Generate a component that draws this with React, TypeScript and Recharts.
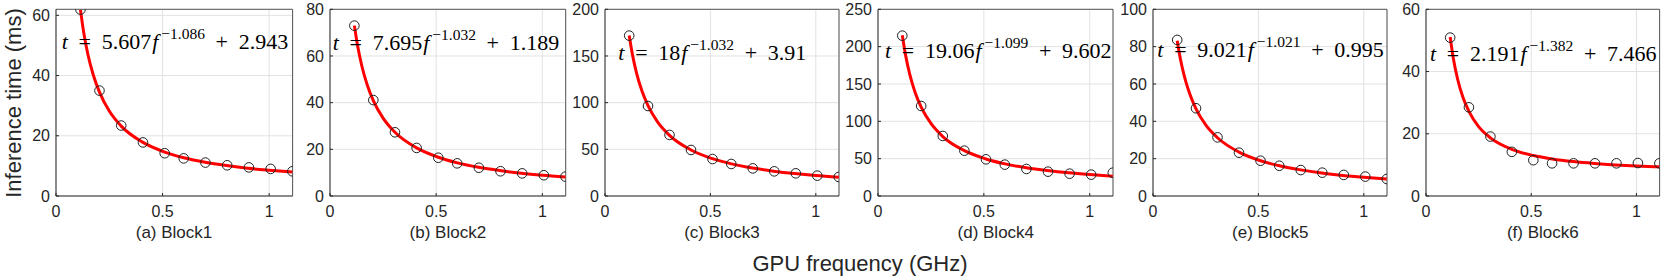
import { ComposedChart, Line, Scatter, XAxis, YAxis, CartesianGrid, ReferenceLine } from 'recharts';

// GPU frequency steps (GHz) of the measured points
const FREQ = [0.1148, 0.204, 0.306, 0.408, 0.51, 0.599, 0.701, 0.803, 0.905, 1.007, 1.109];
const FIT_FREQ = [0.1148, 0.13, 0.15, 0.175, 0.204, 0.25, 0.306, 0.408, 0.51, 0.6, 0.7, 0.8, 0.9, 1.0, 1.109];

const BLOCK1_MEASURED = [61.9, 35.0, 23.4, 17.8, 14.2, 12.5, 11.1, 10.2, 9.5, 9.0, 8.2];
const BLOCK2_MEASURED = [73.0, 41.1, 27.3, 20.6, 16.4, 14.0, 12.1, 10.6, 9.7, 8.9, 8.3];
const BLOCK3_MEASURED = [171.8, 96.4, 65.4, 49.3, 39.6, 34.3, 29.6, 26.4, 24.3, 21.8, 20.4];
const BLOCK4_MEASURED = [214.7, 120.5, 80.4, 60.7, 49.1, 42.0, 36.2, 32.6, 29.9, 28.6, 31.2];
const BLOCK5_MEASURED = [83.6, 47.0, 31.4, 23.2, 18.9, 16.2, 13.9, 12.5, 11.3, 10.4, 9.1];
const BLOCK6_MEASURED = [50.9, 28.5, 19.1, 14.2, 11.5, 10.5, 10.5, 10.5, 10.5, 10.6, 10.5];

const BLOCK1_FIT = [61.8, 54.3, 46.9, 40.2, 34.5, 28.2, 23.2, 17.8, 14.6, 12.7, 11.2, 10.1, 9.2, 8.55, 7.95];
const BLOCK2_FIT = [73.0, 64.4, 55.7, 47.7, 40.9, 33.4, 27.3, 20.6, 16.6, 14.2, 12.3, 10.9, 9.77, 8.88, 8.1];
const BLOCK3_FIT = [171.9, 151.7, 131.4, 112.7, 96.7, 79.2, 65.0, 49.3, 40.0, 34.4, 29.9, 26.6, 24.0, 21.9, 20.1];
const BLOCK4_FIT = [215.3, 189.0, 162.9, 139.0, 118.9, 97.1, 79.6, 60.7, 49.6, 43.0, 37.8, 34.0, 31.0, 28.7, 26.6];
const BLOCK5_FIT = [83.2, 73.4, 63.6, 54.5, 46.7, 38.1, 31.2, 23.5, 18.9, 16.2, 14.0, 12.3, 11.0, 10.0, 9.1];
const BLOCK6_FIT = [51.1, 44.2, 37.6, 31.8, 27.2, 22.3, 18.7, 15.0, 13.0, 11.9, 11.05, 10.45, 10.0, 9.66, 9.37];

const SUBTITLES = ['(a) Block1', '(b) Block2', '(c) Block3', '(d) Block4', '(e) Block5', '(f) Block6'];
const X_TICKS = [0, 0.5, 1];
const X_MAX = 1.11;
const Y_MAX = [62, 80, 200, 250, 100, 60];
const Y_TICKS = [
  [0, 20, 40, 60],
  [0, 20, 40, 60, 80],
  [0, 50, 100, 150, 200],
  [0, 50, 100, 150, 200, 250],
  [0, 20, 40, 60, 80, 100],
  [0, 20, 40, 60],
];
const EQ_COEF = ['5.607', '7.695', '18', '19.06', '9.021', '2.191'];
const EQ_EXP = ['\u22121.086', '\u22121.032', '\u22121.032', '\u22121.099', '\u22121.021', '\u22121.382'];
const EQ_CONST = ['2.943', '1.189', '3.91', '9.602', '0.995', '7.466'];

const MEASURED = [BLOCK1_MEASURED, BLOCK2_MEASURED, BLOCK3_MEASURED, BLOCK4_MEASURED, BLOCK5_MEASURED, BLOCK6_MEASURED];
const FITS = [BLOCK1_FIT, BLOCK2_FIT, BLOCK3_FIT, BLOCK4_FIT, BLOCK5_FIT, BLOCK6_FIT];

// layout
const PLOT_LEFT = [55.7, 330, 605, 878.3, 1153.3, 1426];
const PLOT_WIDTH = [236.6, 235.7, 234, 235, 234, 233.6];
const EQ_LEFT = [61.7, 332.7, 618.3, 885, 1157.3, 1430];
const EQ_BASELINE = [49.3, 49.5, 60, 58, 57, 60.7];
const AXIS_W = 50;
const CHART_H = 226;
const SANS = '"Liberation Sans", Arial, Helvetica, sans-serif';
const SERIF = '"Liberation Serif", "DejaVu Serif", serif';
const INK = '#262626';

const Circle = (props: any) => (
  <circle cx={props.cx} cy={props.cy} r={4.8} fill="none" stroke="#1f1f1f" strokeWidth={1} />
);

function Panel({ i }: { i: number }) {
  const pts = FREQ.map((f, k) => ({ f, t: MEASURED[i][k] }));
  const fit = FIT_FREQ.map((f, k) => ({ f, t: FITS[i][k] }));
  const tick = { fill: INK, fontSize: 16, fontFamily: SANS };
  return (
    <div style={{ position: 'absolute', left: PLOT_LEFT[i] - AXIS_W, top: 0 }}>
      <ComposedChart
        width={AXIS_W + PLOT_WIDTH[i] + 10}
        height={CHART_H}
        margin={{ top: 9.3, right: 10, left: 0, bottom: 0 }}
      >
        <CartesianGrid stroke="#e2e2e2" />
        <XAxis
          type="number"
          dataKey="f"
          domain={[0, X_MAX]}
          ticks={X_TICKS}
          allowDataOverflow
          height={30}
          tickLine={{ stroke: INK }}
          tickSize={-3}
          tickMargin={13}
          tick={tick}
          axisLine={{ stroke: INK }}
        />
        <YAxis
          type="number"
          domain={[0, Y_MAX[i]]}
          ticks={Y_TICKS[i]}
          allowDataOverflow
          width={AXIS_W}
          tickLine={{ stroke: INK }}
          tickSize={-3}
          tickMargin={9}
          tick={tick}
          axisLine={{ stroke: INK }}
        />
        <ReferenceLine y={Y_MAX[i]} stroke="#555" />
        <ReferenceLine x={X_MAX} stroke="#555" />
        <Scatter data={pts} dataKey="t" shape={Circle} isAnimationActive={false} />
        <Line
          data={fit}
          dataKey="t"
          type="monotone"
          stroke="#ff0000"
          strokeWidth={3}
          dot={false}
          isAnimationActive={false}
        />
      </ComposedChart>
    </div>
  );
}

export default function App() {
  const op = 10.7;
  return (
    <div style={{ position: 'absolute', left: 0, top: 0, width: 1661, height: 277, background: '#fff', overflow: 'hidden' }}>
      {SUBTITLES.map((_, i) => (
        <Panel key={i} i={i} />
      ))}
      <svg width={1661} height={277} style={{ position: 'absolute', left: 0, top: 0, pointerEvents: 'none' }}>
        {SUBTITLES.map((s, i) => (
          <text
            key={s}
            x={PLOT_LEFT[i] + PLOT_WIDTH[i] / 2}
            y={232.7}
            textAnchor="middle"
            dominantBaseline="central"
            style={{ fontSize: 17, fontFamily: SANS }}
            fill={INK}
          >
            {s}
          </text>
        ))}
        {SUBTITLES.map((s, i) => (
          <text key={'eq' + s} x={EQ_LEFT[i]} y={EQ_BASELINE[i]} style={{ fontSize: 22, fontFamily: SERIF }} fill="#000">
            <tspan fontStyle="italic">t</tspan>
            <tspan dx={op}>=</tspan>
            <tspan dx={op}>{EQ_COEF[i]}</tspan>
            <tspan dx={1} fontStyle="italic">f</tspan>
            <tspan dx={3} dy={-10} style={{ fontSize: 15.5 }}>{EQ_EXP[i]}</tspan>
            <tspan dx={op} dy={10}>+</tspan>
            <tspan dx={op}>{EQ_CONST[i]}</tspan>
          </text>
        ))}
        <text
          x={860}
          y={263}
          textAnchor="middle"
          dominantBaseline="central"
          style={{ fontSize: 22, fontFamily: SANS }}
          fill={INK}
        >
          GPU frequency (GHz)
        </text>
        <text
          transform="translate(13.6,103) rotate(-90)"
          textAnchor="middle"
          dominantBaseline="central"
          style={{ fontSize: 22, fontFamily: SANS }}
          fill={INK}
        >
          Inference time (ms)
        </text>
      </svg>
    </div>
  );
}
